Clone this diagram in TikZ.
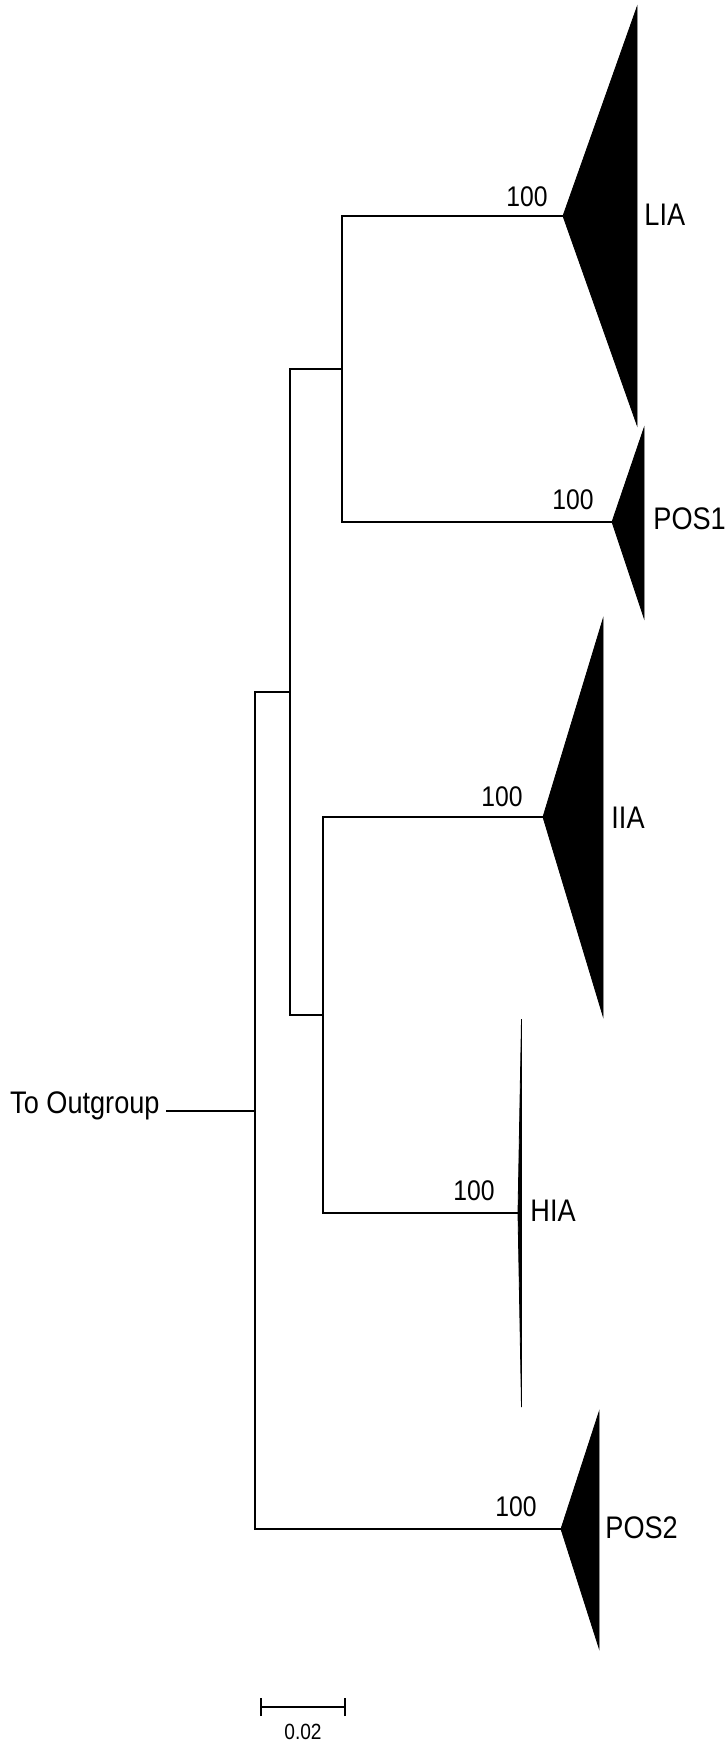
\documentclass[tikz,border=0pt]{standalone}
\usepackage{fontspec}
\usepackage{graphicx}
\setmainfont{Liberation Sans}
% narrow setting of the labels
\newcommand{\cond}[1]{\scalebox{0.87}[1]{#1}}
\begin{document}
\begin{tikzpicture}[x=0.5pt,y=-0.5pt,
  branch/.style={draw=black,line width=0.75pt,line join=miter},
  clade/.style={fill=black,draw=black,line width=0.4pt,line join=miter},
  support/.style={anchor=base,inner sep=0pt,font=\fontsize{14.2}{14.2}\selectfont},
  taxon/.style={anchor=base west,inner sep=0pt,font=\fontsize{15.6}{15.6}\selectfont},
  outlabel/.style={anchor=base east,inner sep=0pt,font=\fontsize{15.6}{15.6}\selectfont},
  scalelabel/.style={anchor=base,inner sep=0pt,font=\fontsize{11}{11}\selectfont}]
\useasboundingbox (0,0) rectangle (724,1744);

% internal nodes of the tree
\coordinate (out)  at (166,1111);
\coordinate (root) at (255,1111);
\coordinate (nA)   at (290,692);
\coordinate (nB)   at (342,369);
\coordinate (nC)   at (323,1015);

% collapsed clade apexes
\coordinate (tLIA)  at (563,216);
\coordinate (tPOS1) at (612,522);
\coordinate (tIIA)  at (543,817);
\coordinate (tHIA)  at (518,1213);
\coordinate (tPOS2) at (561,1529);

% branches
\draw[branch] (out) -- (root);
\draw[branch] (root) |- (nA);
\draw[branch] (root) |- (tPOS2);
\draw[branch] (nA) |- (nB);
\draw[branch] (nA) |- (nC);
\draw[branch] (nB) |- (tLIA);
\draw[branch] (nB) |- (tPOS1);
\draw[branch] (nC) |- (tIIA);
\draw[branch] (nC) |- (tHIA);

% collapsed clades
\filldraw[clade] (tLIA)  -- (637,7)     -- (637,425)    -- cycle;
\filldraw[clade] (tPOS1) -- (644,428)   -- (644,618)    -- cycle;
\filldraw[clade] (tIIA)  -- (603,619)   -- (603,1016)   -- cycle;
\filldraw[clade] (tHIA)  -- (521.5,1019) -- (521.5,1407) -- cycle;
\filldraw[clade] (tPOS2) -- (599,1412)  -- (599,1648)   -- cycle;

% bootstrap support
\node[support] (bLIA)  at (527,207)  {\cond{100}};
\node[support] (bPOS1) at (573,509)  {\cond{100}};
\node[support] (bIIA)  at (502,806)  {\cond{100}};
\node[support] (bHIA)  at (474,1200) {\cond{100}};
\node[support] (bPOS2) at (516,1516) {\cond{100}};

% clade names
\node[taxon] (LIA)  at (644,226)  {\cond{LIA}};
\node[taxon] (POS1) at (653,529)  {\cond{POS1}};
\node[taxon] (IIA)  at (611,828)  {\cond{IIA}};
\node[taxon] (HIA)  at (530,1221) {\cond{HIA}};
\node[taxon] (POS2) at (605,1538) {\cond{POS2}};
\node[outlabel] (outg) at (160,1113) {\cond{To Outgroup}};

% scale bar
\coordinate (sbL) at (261,1707);
\coordinate (sbR) at (345,1707);
\draw[branch] (sbL) -- (sbR);
\draw[branch] ([yshift=-9pt*0.5]sbL) -- ([yshift=9pt*0.5]sbL);
\draw[branch] ([yshift=-9pt*0.5]sbR) -- ([yshift=9pt*0.5]sbR);
\node[scalelabel] (sbtext) at (303,1739) {\cond{0.02}};
\end{tikzpicture}
\end{document}
